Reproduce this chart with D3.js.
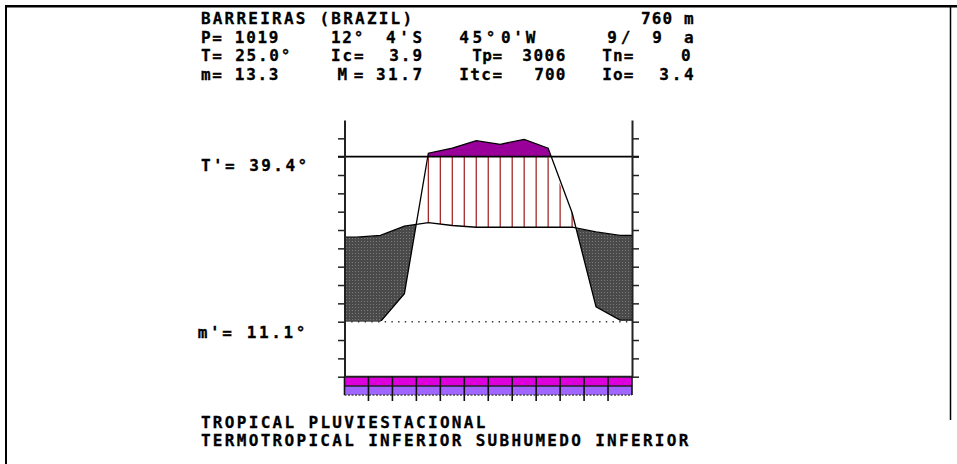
<!DOCTYPE html>
<html><head><meta charset="utf-8">
<script src="https://cdn.jsdelivr.net/npm/d3@7"></script>
<style>
html,body{margin:0;padding:0;background:#fff;}
svg{display:block;}
text{font-family:"DejaVu Sans Mono",monospace;font-weight:bold;font-size:16px;fill:#000;}
</style></head><body>
<svg id="c" width="957" height="464"></svg>
<script>
// ---------- DATA ----------
const months = ["Jul","Aug","Sep","Oct","Nov","Dec","Jan","Feb","Mar","Apr","May","Jun"];
const precipitation = [0, 0, 17, 121, 152, 197, 175, 205, 151, 66, 9, 1];          // mm
const temperature   = [25.6, 25.9, 27.5, 28.1, 27.6, 27.3, 27.3, 27.3, 27.3, 27.3, 26.5, 25.9]; // °C
const TPrime = 39.4, mPrime = 11.1;
const yTickValues = [0,1,2,3,4,5,6,7,8,9,10,11,12,13];
const titleTexts = ["BARREIRAS (BRAZIL)", "760 m"];
const headerRows = [
  ["P= 1019", "12°", "4'S", "45°", "0'W", "9/", "9 a"],
  ["T= 25.0°", "Ic=", "3.9", "Tp=", "3006", "Tn=", "0"],
  ["m= 13.3", "M=", "31.7", "Itc=", "700", "Io=", "3.4"]
];
const absMaxLabel = "T'= 39.4°";
const absMinLabel = "m'= 11.1°";
const bioclimate = ["TROPICAL PLUVIESTACIONAL", "TERMOTROPICAL INFERIOR SUBHUMEDO INFERIOR"];

// ---------- LAYOUT ----------
const rowY = [23.5, 42.5, 61, 79.5];
const titleExt = [[201.7, 411.7], [641.7, 693.3]];
const headerExt = [
  [[201.7,278],[331.7,363],[386.7,421.7],[460,495],[501.7,535],[608,630],[653,693.3]],
  [[201.7,290],[331.7,363.3],[390,421.7],[473,501.7],[523,565],[603,633],[681.7,693.3]],
  [[201.7,278],[338.3,363],[376.7,421.7],[460,501.7],[535,565],[603,633],[660,693.3]]
];

const svg = d3.select("#c");
const defs = svg.append("defs");

const x = d3.scaleLinear().domain([0, 12]).range([344.5, 632]);
const yTick = d3.scaleLinear().domain([0, 14]).range([376.7, 120]);
const yP = d3.scaleLinear().domain([0, 100]).range([yTick(3), yTick(12)]);
const yT = d3.scaleLinear().domain([mPrime, TPrime]).range([yTick(3), yTick(12)]);
const pY = p => p <= 100 ? yP(p) : yP(100 + (p - 100) / 10);
const lineY = yP(100);

const pts = months.map((m, i) => ({pos: i + 0.5, p: precipitation[i], t: temperature[i]}));
const full = [{pos: 0, p: precipitation[0], t: temperature[0]}, ...pts,
              {pos: 12, p: precipitation[11], t: temperature[11]}];

// pattern for dry area
const pat = defs.append("pattern").attr("id","dots").attr("width",3).attr("height",3)
  .attr("patternUnits","userSpaceOnUse");
pat.append("rect").attr("width",3).attr("height",3).attr("fill","#4a4a4a");
pat.append("rect").attr("x",1).attr("y",1).attr("width",1).attr("height",1).attr("fill","#7a7a7a");

// clip paths
defs.append("clipPath").attr("id","belowT").append("path")
  .attr("d", d3.area().x(d => x(d.pos)).y0(420).y1(d => yT(d.t))(full));
defs.append("clipPath").attr("id","humid").append("path")
  .attr("d", d3.area().x(d => x(d.pos)).y0(d => yT(d.t)).y1(d => Math.max(pY(d.p), lineY))(full));
defs.append("clipPath").attr("id","aboveLine").append("rect")
  .attr("x", 0).attr("y", 0).attr("width", 957).attr("height", lineY);
defs.append("clipPath").attr("id","aboveZero").append("rect")
  .attr("x", 0).attr("y", 0).attr("width", 957).attr("height", yP(0) - 0.8);

// dry area
svg.append("path")
  .attr("d", d3.area().x(d => x(d.pos)).y0(d => pY(d.p)).y1(d => yT(d.t))(full))
  .attr("fill", "url(#dots)").attr("clip-path", "url(#belowT)");

// humid stripes
const humid = pts.map(d => pY(d.p) < yT(d.t));
const stripePos = [];
pts.forEach((d, i) => {
  if (humid[i]) {
    stripePos.push(d.pos);
    if (i < 11 && humid[i + 1]) stripePos.push(d.pos + 0.5);
  }
});
svg.append("g").attr("clip-path", "url(#humid)").selectAll("line").data(stripePos).join("line")
  .attr("x1", d => x(d)).attr("x2", d => x(d))
  .attr("y1", yTick(14)).attr("y2", yTick(0))
  .attr("stroke", "#a32a2a").attr("stroke-width", 1.3);

// super-humid (compressed) area
svg.append("path")
  .attr("d", d3.area().x(d => x(d.pos)).y0(lineY).y1(d => pY(d.p))(full))
  .attr("fill", "#990099").attr("clip-path", "url(#aboveLine)");

// zero precipitation dotted line
svg.append("line").attr("x1", x(0)).attr("x2", x(12)).attr("y1", yP(0)).attr("y2", yP(0))
  .attr("stroke", "#333").attr("stroke-width", 1.4).attr("stroke-dasharray", "1.4,5.3");

// curves
svg.append("path").attr("d", d3.line().x(d => x(d.pos)).y(d => pY(d.p))(full))
  .attr("fill", "none").attr("stroke", "#000").attr("stroke-width", 1.3)
  .attr("clip-path", "url(#aboveZero)");
svg.append("path").attr("d", d3.line().x(d => x(d.pos)).y(d => yT(d.t))(full))
  .attr("fill", "none").attr("stroke", "#000").attr("stroke-width", 1.3);

// 100 mm line
svg.append("line").attr("x1", x(0) - 6.5).attr("x2", x(12) + 7).attr("y1", lineY).attr("y2", lineY)
  .attr("stroke", "#000").attr("stroke-width", 1.6);

// axes
const axL = svg.append("g").attr("transform", `translate(${x(0)},0)`)
  .call(d3.axisLeft(yTick).tickValues(yTickValues).tickSize(6.5).tickSizeOuter(0).tickFormat(""));
const axR = svg.append("g").attr("transform", `translate(${x(12)},0)`)
  .call(d3.axisRight(yTick).tickValues(yTickValues).tickSize(7).tickSizeOuter(0).tickFormat(""));
[axL, axR].forEach(a => {
  a.select(".domain").attr("stroke", "#222").attr("stroke-width", 2);
  a.selectAll(".tick line").attr("stroke", "#222").attr("stroke-width", 1.5);
});

// bottom month bar
const barTop = yTick(0), barMid = barTop + 9.3, barBot = barTop + 18.3;
svg.append("rect").attr("x", x(0)).attr("y", barTop).attr("width", x(12) - x(0)).attr("height", barMid - barTop)
  .attr("fill", "#dd00dd");
svg.append("rect").attr("x", x(0)).attr("y", barMid).attr("width", x(12) - x(0)).attr("height", barBot - barMid)
  .attr("fill", "#a066ff");
svg.append("line").attr("x1", x(0)).attr("x2", x(12)).attr("y1", barTop).attr("y2", barTop)
  .attr("stroke", "#222").attr("stroke-width", 2);
svg.append("line").attr("x1", x(0)).attr("x2", x(12)).attr("y1", barMid).attr("y2", barMid)
  .attr("stroke", "#222").attr("stroke-width", 1.5);
svg.append("line").attr("x1", x(0)).attr("x2", x(12)).attr("y1", barBot).attr("y2", barBot)
  .attr("stroke", "#444").attr("stroke-width", 1.3).attr("stroke-dasharray", "2,1.5");
svg.append("g").selectAll("line").data(d3.range(0, 13)).join("line")
  .attr("x1", d => x(d)).attr("x2", d => x(d))
  .attr("y1", barTop).attr("y2", d => (d === 0 || d === 12) ? barBot : barBot + 6)
  .attr("stroke", "#111").attr("stroke-width", 1.6);

// frame
svg.append("line").attr("x1", 5).attr("x2", 957).attr("y1", 6.3).attr("y2", 6.3)
  .attr("stroke", "#000").attr("stroke-width", 2.5);
svg.append("line").attr("x1", 6).attr("x2", 6).attr("y1", 5).attr("y2", 464)
  .attr("stroke", "#000").attr("stroke-width", 2);
svg.append("line").attr("x1", 950.5).attr("x2", 950.5).attr("y1", 5).attr("y2", 420)
  .attr("stroke", "#000").attr("stroke-width", 1.5);

// texts
function putText(str, x0, x1, y) {
  const t = svg.append("text").attr("x", x0 - 0.8).attr("y", y).text(str)
    .attr("stroke", "#000").attr("stroke-width", 0.3);
  if (str.length > 1) t.attr("textLength", x1 - x0 + 1.2).attr("lengthAdjust", "spacing");
  return t;
}
titleTexts.forEach((s, i) => putText(s, titleExt[i][0], titleExt[i][1], rowY[0]));
headerRows.forEach((row, r) => row.forEach((s, i) =>
  putText(s, headerExt[r][i][0], headerExt[r][i][1], rowY[r + 1])));
putText(absMaxLabel, 201.7, 306.7, 170.5);
putText(absMinLabel, 198.5, 305, 337.5);
putText(bioclimate[0], 201.7, 485, 428);
putText(bioclimate[1], 201.7, 688, 446);
</script>
</body></html>
